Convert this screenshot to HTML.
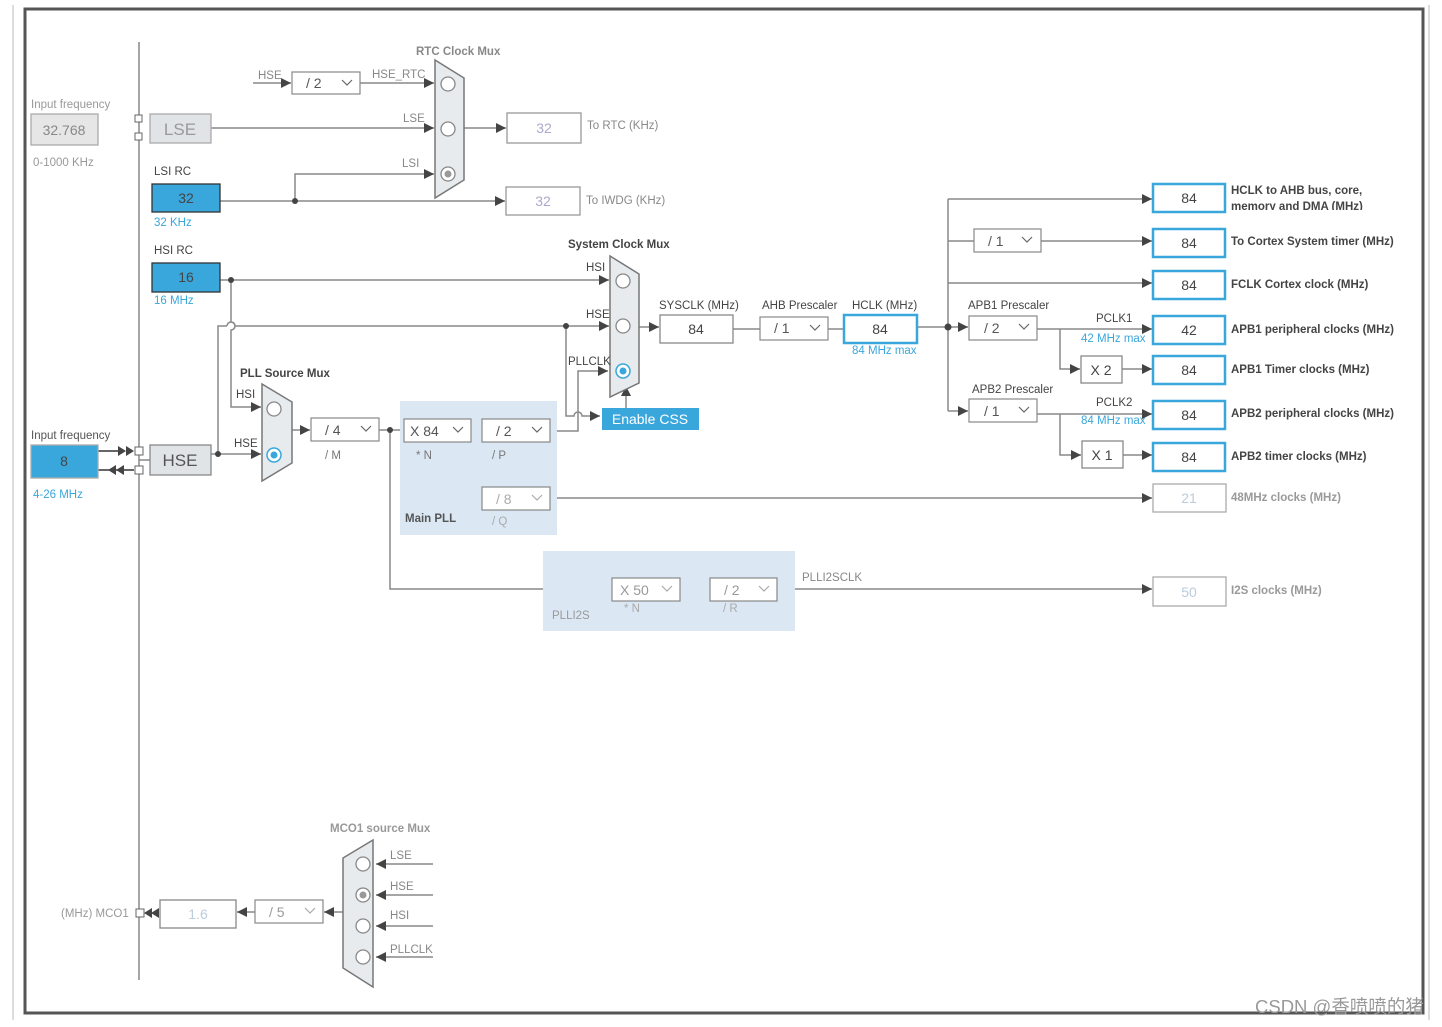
<!DOCTYPE html>
<html><head><meta charset="utf-8"><style>
html,body{margin:0;padding:0;background:#fff;width:1442px;height:1027px;overflow:hidden}
svg{display:block}
text{font-family:"Liberation Sans","Noto Sans CJK SC",sans-serif}
</style></head><body>
<svg width="1442" height="1027" viewBox="0 0 1442 1027" xmlns="http://www.w3.org/2000/svg">
<defs>
<marker id="a" viewBox="0 0 10 10" refX="10" refY="5" markerWidth="12" markerHeight="10" markerUnits="userSpaceOnUse" orient="auto"><path d="M0,0L10,5L0,10z" fill="#444"/></marker>
</defs>
<rect x="0" y="0" width="1442" height="1027" fill="#fff"/>
<line x1="13" y1="5" x2="13" y2="1020" stroke="#ddd" stroke-width="2"/>
<line x1="1429" y1="5" x2="1429" y2="1020" stroke="#ddd" stroke-width="2"/>
<rect x="25" y="9" width="1398" height="1004" fill="none" stroke="#555" stroke-width="3"/>

<g stroke="#888" stroke-width="1.5" fill="none">
<line x1="139" y1="42" x2="139" y2="980"/>
<line x1="253" y1="83" x2="291" y2="83" marker-end="url(#a)"/>
<line x1="360" y1="83" x2="434" y2="83" marker-end="url(#a)"/>
<line x1="211" y1="128" x2="434" y2="128" marker-end="url(#a)"/>
<line x1="464" y1="128" x2="506" y2="128" marker-end="url(#a)"/>
<line x1="220" y1="201" x2="505" y2="201" marker-end="url(#a)"/>
<polyline points="295,201 295,174 434,174" marker-end="url(#a)"/>
<line x1="220" y1="280" x2="609" y2="280" marker-end="url(#a)"/>
<path d="M231,280 L231,322 A4,4 0 0 1 231,330 L231,407 L261,407" marker-end="url(#a)"/>
<polyline points="218,454 218,326 227,326"/>
<path d="M227,326 A4,4 0 0 1 235,326 L609,326" marker-end="url(#a)"/>
<line x1="211" y1="454" x2="261" y2="454" marker-end="url(#a)"/>
<line x1="139" y1="460" x2="150" y2="460"/>
<path d="M566,326 L566,416 L574,416 A4,4 0 0 1 582,416 L600,416" marker-end="url(#a)"/>
<polyline points="550,431 578,431 578,371 608,371" marker-end="url(#a)"/>
<line x1="626" y1="408" x2="626" y2="386" marker-end="url(#a)"/>
<line x1="639" y1="327" x2="659" y2="327" marker-end="url(#a)"/>
<line x1="733" y1="329" x2="760" y2="329"/>
<line x1="828" y1="329" x2="844" y2="329"/>
<line x1="917" y1="327" x2="968" y2="327" marker-end="url(#a)"/>
<line x1="948" y1="199" x2="948" y2="411"/>
<line x1="948" y1="199" x2="1152" y2="199" marker-end="url(#a)"/>
<line x1="948" y1="241" x2="974" y2="241"/>
<line x1="1041" y1="241" x2="1152" y2="241" marker-end="url(#a)"/>
<line x1="948" y1="283" x2="1152" y2="283" marker-end="url(#a)"/>
<line x1="1037" y1="329" x2="1152" y2="329" marker-end="url(#a)"/>
<polyline points="1060,329 1060,369 1080,369" marker-end="url(#a)"/>
<line x1="1122" y1="369" x2="1152" y2="369" marker-end="url(#a)"/>
<line x1="948" y1="411" x2="968" y2="411" marker-end="url(#a)"/>
<line x1="1037" y1="414" x2="1152" y2="414" marker-end="url(#a)"/>
<polyline points="1060,414 1060,455 1081,455" marker-end="url(#a)"/>
<line x1="1123" y1="455" x2="1152" y2="455" marker-end="url(#a)"/>
<line x1="292" y1="430" x2="310" y2="430" marker-end="url(#a)"/>
<line x1="379" y1="430" x2="404" y2="430"/>
<line x1="471" y1="431" x2="482" y2="431"/>
<polyline points="475,431 475,498 482,498"/>
<line x1="550" y1="498" x2="1152" y2="498" marker-end="url(#a)"/>
<polyline points="390,430 390,589 612,589"/>
<line x1="680" y1="589" x2="710" y2="589"/>
<line x1="777" y1="589" x2="1152" y2="589" marker-end="url(#a)"/>
<line x1="433" y1="864" x2="376" y2="864" marker-end="url(#a)"/>
<line x1="433" y1="895" x2="376" y2="895" marker-end="url(#a)"/>
<line x1="433" y1="926" x2="376" y2="926" marker-end="url(#a)"/>
<line x1="433" y1="957" x2="376" y2="957" marker-end="url(#a)"/>
<line x1="343" y1="912" x2="324" y2="912" marker-end="url(#a)"/>
<line x1="255" y1="912" x2="237" y2="912" marker-end="url(#a)"/>
</g>
<g fill="#444">
<circle cx="295" cy="201" r="3"/><circle cx="231" cy="280" r="3"/><circle cx="218" cy="454" r="3"/>
<circle cx="566" cy="326" r="3"/><circle cx="948" cy="327" r="3.5"/><circle cx="390" cy="430" r="3"/>
<path d="M118,446 L126,451 L118,456z M126,446 L134,451 L126,456z"/>
<path d="M98,451 L118,451" stroke="#333" stroke-width="1.5"/>
<path d="M98,470 L134,470" stroke="#333" stroke-width="1.5"/>
<path d="M108,470 L116,465 L116,475z M116,470 L124,465 L124,475z"/>
<path d="M144,913 L152,908 L152,918z M151,913 L159,908 L159,918z"/>
</g>
<g fill="#fff" stroke="#666" stroke-width="1">
<rect x="135" y="115" width="7" height="7"/><rect x="135" y="133" width="7" height="7"/>
<rect x="135" y="447" width="8" height="8"/><rect x="135" y="466" width="8" height="8"/>
<rect x="136" y="909" width="8" height="8"/>
</g>

<rect x="400" y="401" width="157" height="134" fill="#dbe8f4"/>
<rect x="543" y="551" width="252" height="80" fill="#dbe8f4"/>

<g fill="#e8ebee" stroke="#777" stroke-width="1.5">
<polygon points="435,60 464,78 464,180 435,198"/>
<polygon points="610,256 639,274 639,383 610,397"/>
<polygon points="262,384 292,402 292,463 262,481"/>
<polygon points="373,840 343,858 343,968 373,987"/>
</g>
<g fill="#fff" stroke="#888" stroke-width="1.3">
<circle cx="448" cy="84" r="7"/><circle cx="448" cy="129" r="7"/><circle cx="448" cy="174" r="7"/>
<circle cx="623" cy="281" r="7"/><circle cx="623" cy="326" r="7"/>
<circle cx="274" cy="409" r="7"/>
<circle cx="363" cy="864" r="7"/><circle cx="363" cy="895" r="7"/><circle cx="363" cy="926" r="7"/><circle cx="363" cy="957" r="7"/>
</g>
<circle cx="623" cy="371" r="7" fill="#fff" stroke="#3aa7dc" stroke-width="1.5"/><circle cx="623" cy="371" r="3.5" fill="#3aa7dc"/>
<circle cx="274" cy="455" r="7" fill="#fff" stroke="#3aa7dc" stroke-width="1.5"/><circle cx="274" cy="455" r="3.5" fill="#3aa7dc"/>
<circle cx="448" cy="174" r="3.5" fill="#999"/><circle cx="363" cy="895" r="3.5" fill="#999"/>

<g stroke-width="1.3">
<rect x="31" y="114" width="67" height="31" fill="#e6e6e6" stroke="#aaa"/>
<rect x="150" y="114" width="61" height="29" fill="#e1e4e7" stroke="#aaa"/>
<rect x="150" y="445" width="61" height="30" fill="#e1e4e7" stroke="#888"/>
<rect x="152" y="184" width="68" height="28" fill="#3aa7dc" stroke="#333"/>
<rect x="152" y="263" width="68" height="29" fill="#3aa7dc" stroke="#333"/>
<rect x="31" y="445" width="67" height="33" fill="#3aa7dc" stroke="#aaa"/>
<rect x="507" y="113" width="74" height="30" fill="#fff" stroke="#999"/>
<rect x="506" y="187" width="74" height="28" fill="#fff" stroke="#999"/>
<rect x="660" y="315" width="73" height="28" fill="#fff" stroke="#888"/>
<rect x="160" y="900" width="76" height="28" fill="#fff" stroke="#888"/>
<rect x="1153" y="484" width="73" height="28" fill="#fff" stroke="#aaa"/>
<rect x="1153" y="577" width="73" height="29" fill="#fff" stroke="#aaa"/>
<rect x="1081" y="356" width="41" height="27" fill="#fff" stroke="#888"/>
<rect x="1082" y="441" width="41" height="27" fill="#fff" stroke="#888"/>
</g>
<g fill="#fff" stroke="#3aa7dc" stroke-width="2.5">
<rect x="844" y="315" width="73" height="28"/>
<rect x="1153" y="184" width="72" height="28"/>
<rect x="1153" y="229" width="72" height="28"/>
<rect x="1153" y="271" width="72" height="28"/>
<rect x="1153" y="316" width="72" height="28"/>
<rect x="1153" y="356" width="72" height="28"/>
<rect x="1153" y="401" width="72" height="28"/>
<rect x="1153" y="443" width="72" height="28"/>
</g>
<rect x="602" y="408" width="97" height="22" fill="#3aa7dc"/>

<g fill="#fff" stroke="#888" stroke-width="1.2">
<rect x="292" y="72" width="68" height="22"/>
<rect x="760" y="317" width="68" height="23"/>
<rect x="974" y="229" width="67" height="23"/>
<rect x="969" y="316" width="68" height="24"/>
<rect x="969" y="399" width="68" height="23"/>
<rect x="311" y="418" width="68" height="23"/>
<rect x="404" y="419" width="67" height="23"/>
<rect x="482" y="419" width="68" height="23"/>
<rect x="482" y="487" width="68" height="23"/>
<rect x="612" y="578" width="68" height="23"/>
<rect x="710" y="578" width="67" height="23"/>
<rect x="255" y="900" width="68" height="23"/>
</g>
<g fill="none" stroke="#666" stroke-width="1.2">
<path d="M342,80 l5,5 l5,-5"/><path d="M810,325 l5,5 l5,-5"/><path d="M1022,237 l5,5 l5,-5"/>
<path d="M1019,324 l5,5 l5,-5"/><path d="M1019,407 l5,5 l5,-5"/><path d="M361,426 l5,5 l5,-5"/>
<path d="M453,427 l5,5 l5,-5"/><path d="M532,427 l5,5 l5,-5"/><path d="M532,495 l5,5 l5,-5" stroke="#aaa"/>
<path d="M662,586 l5,5 l5,-5" stroke="#aaa"/><path d="M759,586 l5,5 l5,-5" stroke="#aaa"/><path d="M305,908 l5,5 l5,-5" stroke="#aaa"/>
</g>

<g font-size="14" fill="#444" text-anchor="middle">
<text x="64" y="135" fill="#888">32.768</text>
<text x="180" y="135" font-size="17" fill="#999">LSE</text>
<text x="180" y="466" font-size="17" fill="#555">HSE</text>
<text x="186" y="203">32</text><text x="186" y="282">16</text><text x="64" y="466">8</text>
<text x="544" y="133" fill="#aac">32</text><text x="543" y="206" fill="#aac">32</text>
<text x="696" y="334">84</text><text x="880" y="334">84</text>
<text x="1189" y="203">84</text><text x="1189" y="248">84</text><text x="1189" y="290">84</text>
<text x="1189" y="335">42</text><text x="1189" y="375">84</text><text x="1189" y="420">84</text><text x="1189" y="462">84</text>
<text x="1189" y="503" fill="#bcd">21</text><text x="1189" y="597" fill="#bcd">50</text>
<text x="198" y="919" fill="#bcd">1.6</text>
<text x="1101" y="375">X 2</text><text x="1102" y="460">X 1</text>
<text x="650" y="424" fill="#fff">Enable CSS</text>
</g>
<g font-size="14" fill="#555">
<text x="306" y="88">/ 2</text><text x="774" y="333">/ 1</text><text x="988" y="246">/ 1</text>
<text x="984" y="333">/ 2</text><text x="984" y="416">/ 1</text><text x="325" y="435">/ 4</text>
<text x="410" y="436">X 84</text><text x="496" y="436">/ 2</text><text x="496" y="504" fill="#aaa">/ 8</text>
<text x="620" y="595" fill="#999">X 50</text><text x="724" y="595" fill="#999">/ 2</text><text x="269" y="917" fill="#999">/ 5</text>
</g>
<g font-size="11.5" fill="#444">
<text x="31" y="108" fill="#999">Input frequency</text>
<text x="33" y="166" fill="#999">0-1000 KHz</text>
<text x="31" y="439" fill="#555">Input frequency</text>
<text x="33" y="498" fill="#3aa7dc">4-26 MHz</text>
<text x="154" y="175">LSI RC</text><text x="154" y="226" fill="#3aa7dc">32 KHz</text>
<text x="154" y="254">HSI RC</text><text x="154" y="304" fill="#3aa7dc">16 MHz</text>
<text x="258" y="79" fill="#888">HSE</text><text x="372" y="78" fill="#888">HSE_RTC</text>
<text x="403" y="122" fill="#888">LSE</text><text x="402" y="167" fill="#888">LSI</text>
<text x="416" y="55" fill="#888" font-weight="bold">RTC Clock Mux</text>
<text x="587" y="129" fill="#888">To RTC (KHz)</text><text x="586" y="204" fill="#888">To IWDG (KHz)</text>
<text x="568" y="248" font-weight="bold">System Clock Mux</text>
<text x="586" y="271">HSI</text><text x="586" y="318">HSE</text><text x="568" y="365">PLLCLK</text>
<text x="659" y="309">SYSCLK (MHz)</text><text x="762" y="309">AHB Prescaler</text><text x="852" y="309">HCLK (MHz)</text>
<text x="852" y="354" fill="#3aa7dc">84 MHz max</text>
<text x="968" y="309">APB1 Prescaler</text><text x="972" y="393">APB2 Prescaler</text>
<text x="1096" y="322">PCLK1</text><text x="1081" y="342" fill="#3aa7dc">42 MHz max</text>
<text x="1096" y="406">PCLK2</text><text x="1081" y="424" fill="#3aa7dc">84 MHz max</text>
<text x="240" y="377" font-weight="bold">PLL Source Mux</text>
<text x="236" y="398">HSI</text><text x="234" y="447">HSE</text>
<text x="325" y="459" fill="#777">/ M</text><text x="416" y="459" fill="#777">* N</text><text x="492" y="459" fill="#777">/ P</text>
<text x="492" y="525" fill="#aaa">/ Q</text><text x="405" y="522" font-weight="bold" fill="#555">Main PLL</text>
<text x="552" y="619" fill="#999">PLLI2S</text><text x="624" y="612" fill="#aaa">* N</text><text x="723" y="612" fill="#aaa">/ R</text>
<text x="802" y="581" fill="#888">PLLI2SCLK</text>
<text x="1231" y="501" fill="#999" font-weight="bold">48MHz clocks (MHz)</text>
<text x="1231" y="594" fill="#999" font-weight="bold">I2S clocks (MHz)</text>
<text x="61" y="917" fill="#999">(MHz) MCO1</text>
<text x="330" y="832" fill="#999" font-weight="bold">MCO1 source Mux</text>
<text x="390" y="859" fill="#888">LSE</text><text x="390" y="890" fill="#888">HSE</text><text x="390" y="919" fill="#888">HSI</text><text x="390" y="953" fill="#888">PLLCLK</text>
</g>
<g font-size="11.5" fill="#444" font-weight="bold">
<text x="1231" y="194">HCLK to AHB bus, core,</text>
<svg x="1228" y="198" width="200" height="12"><text x="3" y="12">memory and DMA (MHz)</text></svg>
<text x="1231" y="245">To Cortex System timer (MHz)</text>
<text x="1231" y="288">FCLK Cortex clock (MHz)</text>
<text x="1231" y="333">APB1 peripheral clocks (MHz)</text>
<text x="1231" y="373">APB1 Timer clocks (MHz)</text>
<text x="1231" y="417">APB2 peripheral clocks (MHz)</text>
<text x="1231" y="460">APB2 timer clocks (MHz)</text>
</g>
<text x="1255" y="1013" font-size="18.5" fill="#999">CSDN @香喷喷的猪</text>
</svg>
</body></html>
